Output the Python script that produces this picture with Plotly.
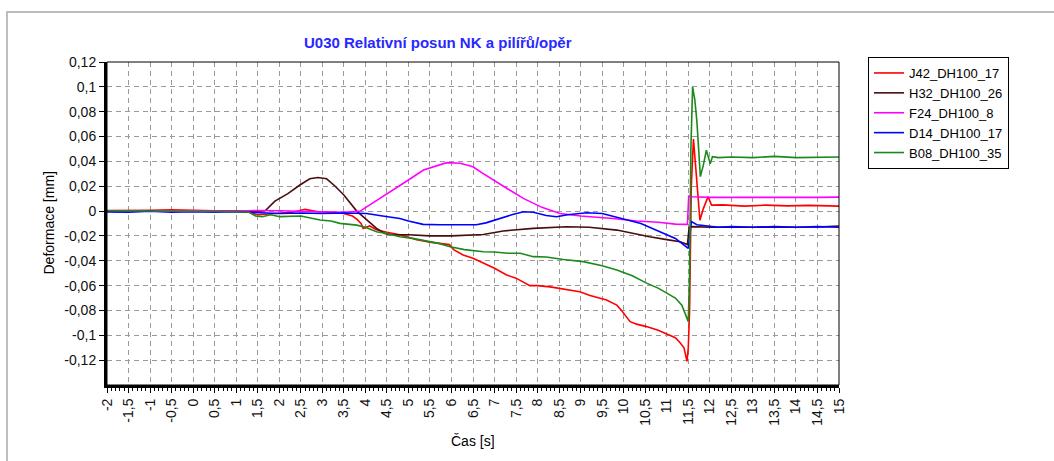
import plotly.graph_objects as go

# ---- data: time [s] and relative displacement [mm] per sensor ----
t_j42 = [-2, -1.5, -1, -0.5, 0, 0.5, 1, 1.3, 1.5, 1.7, 2.0, 2.3, 2.6, 2.9, 3.2, 3.5, 3.7, 3.8, 3.9,
         3.95, 4.1, 4.26, 4.5, 4.8, 5.0, 5.19, 5.5, 5.73, 5.95, 6.05, 6.27, 6.5, 6.74, 7.0, 7.28, 7.5,
         7.82, 8.0, 8.29, 8.6, 8.98, 9.22, 9.6, 9.84, 9.95, 10.15, 10.3, 10.53, 10.8, 11.0, 11.2, 11.31,
         11.4, 11.47, 11.5, 11.53, 11.57, 11.62, 11.7, 11.77, 11.85, 11.96, 12.04, 12.3, 12.8, 13.3,
         13.8, 14.3, 15]
v_j42 = [0.0005, 0.0003, 0.0006, 0.001, 0.0004, 0.0002, 0.0, -0.001, -0.003, -0.0025, -0.002, -0.001,
         0.0014, -0.0005, -0.001, -0.002, -0.004, -0.0065, -0.010, -0.014, -0.012, -0.015, -0.017,
         -0.019, -0.021, -0.023, -0.025, -0.026, -0.027, -0.031, -0.0354, -0.038, -0.042, -0.046,
         -0.0515, -0.054, -0.060, -0.060, -0.061, -0.063, -0.065, -0.068, -0.0716, -0.0757, -0.080,
         -0.089, -0.091, -0.093, -0.096, -0.099, -0.102, -0.106, -0.110, -0.121, -0.110, -0.080, 0.020,
         0.058, 0.026, -0.0073, 0.002, 0.0116, 0.0048, 0.005, 0.004, 0.0048, 0.0042, 0.0046, 0.004]

t_h32 = [-2, -1, 0, 1, 1.5, 1.68, 1.9, 2.2, 2.48, 2.71, 2.9, 3.1, 3.3, 3.5, 3.8, 4.0, 4.26, 4.45, 4.6,
         5.0, 5.5, 6.0, 6.74, 7.2, 7.9, 8.67, 9.2, 9.84, 10.2, 10.6, 11.0, 11.31, 11.48, 11.52, 11.6,
         12, 12.5, 13, 13.5, 14, 14.5, 15]
v_h32 = [0, 0.0002, 0, 0, 0, 0.0005, 0.008, 0.014, 0.021, 0.026, 0.027, 0.026, 0.020, 0.013, 0.0,
         -0.006, -0.014, -0.018, -0.019, -0.019, -0.020, -0.020, -0.0188, -0.016, -0.0139, -0.0126,
         -0.013, -0.0153, -0.018, -0.0206, -0.023, -0.0247, -0.027, -0.013, -0.0125, -0.013, -0.0128,
         -0.013, -0.0125, -0.013, -0.0128, -0.012]

t_f24 = [-2, -1, 0, 1, 1.5, 2, 2.5, 3, 3.5, 3.88, 4.2, 4.57, 5.0, 5.35, 5.6, 5.89, 6.2, 6.5, 6.7, 6.97,
         7.3, 7.67, 8.1, 8.52, 9.0, 9.75, 10.3, 10.8, 11.2, 11.48, 11.51, 11.6, 12, 12.5, 13, 13.5, 14,
         14.5, 15]
v_f24 = [0.0003, 0.0005, 0.0002, 0.0, 0.0005, 0.0003, 0.0, -0.0005, -0.001, 0.0, 0.007, 0.0156, 0.025,
         0.033, 0.036, 0.039, 0.0385, 0.0357, 0.031, 0.025, 0.018, 0.0102, 0.003, -0.002, -0.004,
         -0.006, -0.008, -0.009, -0.0105, -0.0107, 0.012, 0.0115, 0.011, 0.011, 0.0112, 0.0108, 0.011,
         0.011, 0.0112]

t_d14 = [-2, -1.5, -1, -0.5, 0, 0.5, 1, 1.5, 2, 2.5, 3, 3.5, 4.03, 4.4, 4.8, 5.0, 5.34, 5.73, 6.2, 6.58,
         6.8, 7.1, 7.4, 7.67, 7.9, 8.2, 8.44, 8.7, 9.14, 9.5, 10.07, 10.4, 10.84, 11.2, 11.5, 11.53,
         11.57, 11.7, 11.9, 12.2, 12.5, 13, 13.5, 14, 14.5, 15]
v_d14 = [-0.0008, -0.001, 0.0, -0.001, -0.0005, -0.001, -0.0005, -0.001, -0.002, -0.0015, -0.002,
         -0.0015, -0.002, -0.004, -0.006, -0.008, -0.0107, -0.011, -0.0112, -0.011, -0.0095, -0.006,
         -0.003, -0.0005, -0.001, -0.0035, -0.0045, -0.003, -0.0013, -0.002, -0.0067, -0.010, -0.0166,
         -0.022, -0.030, -0.020, -0.0085, -0.011, -0.012, -0.013, -0.0125, -0.013, -0.0128, -0.013,
         -0.0125, -0.013]

t_b08 = [-2, -1.5, -1, -0.5, 0, 0.5, 1, 1.3, 1.45, 1.6, 1.8, 2.02, 2.5, 2.95, 3.2, 3.41, 3.8, 4.0, 4.26,
         4.5, 4.8, 5.1, 5.42, 5.7, 5.97, 6.3, 6.74, 7.0, 7.3, 7.6, 7.9, 8.2, 8.6, 9.06, 9.5, 9.84, 10.2,
         10.53, 10.8, 11.0, 11.2, 11.35, 11.45, 11.5, 11.53, 11.56, 11.6, 11.65, 11.7, 11.78, 11.85,
         11.92, 12.01, 12.06, 12.2, 12.5, 13, 13.5, 14, 14.5, 15]
v_b08 = [0.0003, 0.0002, 0.0, 0.0002, 0.0001, 0.0, -0.0005, -0.001, -0.004, -0.0045, -0.003, -0.0045,
         -0.004, -0.0072, -0.008, -0.0099, -0.0113, -0.013, -0.0166, -0.018, -0.0206, -0.022, -0.024,
         -0.026, -0.0287, -0.031, -0.0327, -0.033, -0.034, -0.034, -0.0367, -0.037, -0.039, -0.0407,
         -0.044, -0.0475, -0.052, -0.058, -0.062, -0.066, -0.070, -0.0757, -0.084, -0.089, -0.050,
         0.050, 0.100, 0.090, 0.072, 0.0277, 0.037, 0.049, 0.038, 0.0438, 0.043, 0.0435, 0.043, 0.044,
         0.043, 0.0435, 0.0435]

series_names = ["J42_DH100_17", "H32_DH100_26", "F24_DH100_8", "D14_DH100_17", "B08_DH100_35"]
series_colors = ["#ff0000", "#4a0c0c", "#ff00ff", "#0000ff", "#1b8a1b"]
series_t = [t_j42, t_h32, t_f24, t_d14, t_b08]
series_v = [v_j42, v_h32, v_f24, v_d14, v_b08]

x_ticks = [-2 + 0.5 * i for i in range(35)]
x_labels = [("%g" % v).replace(".", ",") for v in x_ticks]
y_ticks = [-0.12, -0.1, -0.08, -0.06, -0.04, -0.02, 0, 0.02, 0.04, 0.06, 0.08, 0.1, 0.12]
y_labels = ["-0,12", "-0,1", "-0,08", "-0,06", "-0,04", "-0,02", "0",
            "0,02", "0,04", "0,06", "0,08", "0,1", "0,12"]

title_text = "U030 Relativní posun NK a pilířů/opěr"
x_title = "Čas [s]"
y_title = "Deformace [mm]"

FONT = "Liberation Sans, Arial, sans-serif"

fig = go.Figure()
for name, color, t, v in zip(series_names, series_colors, series_t, series_v):
    fig.add_trace(go.Scatter(x=t, y=v, mode="lines", name=name,
                             line=dict(color=color, width=1.6)))

grid = dict(showgrid=True, gridcolor="#9a9a9a", gridwidth=1, griddash="5px,4px",
            zeroline=False, showline=True, linecolor="black", linewidth=3,
            ticks="outside", ticklen=5, tickcolor="black", tickwidth=1,
            tickfont=dict(family=FONT, size=14, color="#111111"))

fig.update_layout(
    width=1054, height=461,
    margin=dict(l=107, r=215, t=62, b=76),
    paper_bgcolor="white", plot_bgcolor="white",
    font=dict(family=FONT, size=14, color="black"),
    xaxis=dict(range=[-2, 15], tickmode="array", tickvals=x_ticks, ticktext=x_labels,
               tickangle=-90,
               minor=dict(tick0=-2, dtick=0.1, ticks="outside", ticklen=3,
                          tickcolor="black", showgrid=False),
               **grid),
    yaxis=dict(range=[-0.14, 0.12], tickmode="array", tickvals=y_ticks, ticktext=y_labels,
               **grid),
    legend=dict(x=1.0396, y=1.0155, xanchor="left", yanchor="top",
                bordercolor="black", borderwidth=1, bgcolor="white",
                font=dict(family=FONT, size=13, color="black"),
                itemwidth=30, tracegroupgap=0, entrywidth=110),
    showlegend=True,
    shapes=[
        # thin border on top and right of the plotting area
        dict(type="rect", xref="paper", yref="paper", x0=0, x1=1, y0=0, y1=1,
             line=dict(color="black", width=1), layer="above"),
        # outer frame of the chart panel
        dict(type="rect", xref="paper", yref="paper", x0=-0.1366, x1=1.45, y0=-0.3, y1=1.1548,
             line=dict(color="#bdbdbd", width=2), layer="below"),
    ],
    annotations=[
        dict(text="<b>%s</b>" % title_text, xref="paper", yref="paper", x=0.452, y=1.059,
             xanchor="center", yanchor="middle", showarrow=False,
             font=dict(family=FONT, size=15, color="#2828ff")),
        dict(text=x_title, xref="paper", yref="paper", x=0.5, y=-0.172,
             xanchor="center", yanchor="middle", showarrow=False,
             font=dict(family=FONT, size=14, color="black")),
        dict(text=y_title, xref="paper", yref="paper", x=-0.0806, y=0.5, textangle=-90,
             xanchor="center", yanchor="middle", showarrow=False,
             font=dict(family=FONT, size=14, color="black")),
    ],
)

fig.write_html("out.html")
